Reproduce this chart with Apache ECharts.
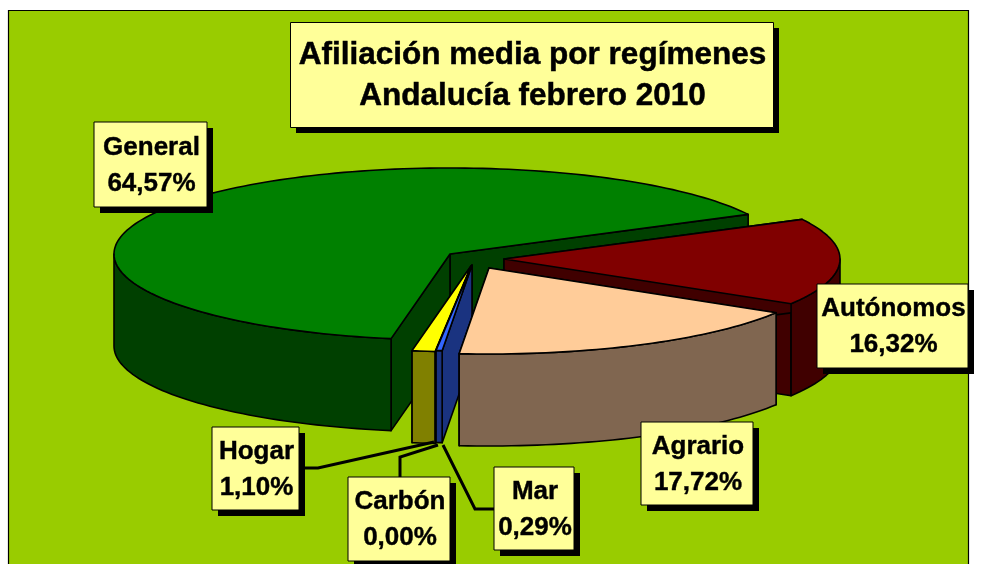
<!DOCTYPE html>
<html>
<head>
<meta charset="utf-8">
<style>html,body{margin:0;padding:0;background:#fff}#c{width:986px;height:564px}</style>
<script src="https://cdn.jsdelivr.net/npm/echarts@6/dist/echarts.min.js"></script>
</head>
<body>
<div id="c"></div>
<script>
// ---- data (pie order, counter-clockwise from the start angle) ----
var categories = ['General', 'Hogar', 'Carbón', 'Mar', 'Agrario', 'Autónomos'];
var shares = [64.57, 1.10, 0.00, 0.29, 17.72, 16.32];
var titleLines = ['Afiliación media por regímenes', 'Andalucía febrero 2010'];

// ---- styles and layout ----
var topColors = {General:'#008000',Hogar:'#FFFF00','Carbón':'#333399',Mar:'#3366FF',Agrario:'#FFCC99','Autónomos':'#800000'};
var sideColors = {General:'#004000',Hogar:'#808000','Carbón':'#1A1A4D',Mar:'#1A3380',Agrario:'#806650','Autónomos':'#400000'};
var apex = {General:[450,254],Hogar:[471,266],'Carbón':[471.5,266],Mar:[472,265],Agrario:[489,268],'Autónomos':[504,259]};
var paintOrder = {General:1,'Autónomos':2,Hogar:3,'Carbón':4,Mar:5,Agrario:6};
var boxes = {General:[94,122,113,85],Hogar:[212,427,87,83],'Carbón':[348,477,102,84],Mar:[494,467,80,83],Agrario:[641,422,112,83],'Autónomos':[817,284,151,84]};
var leaders = {
  Hogar:[[299,468],[318,468],[434,442]],
  'Carbón':[[400,477],[400,457],[438,445]],
  Mar:[[494,509],[475,509],[443,445]]
};
var RX = 336, RY = 86, DEPTH = 92, START = 27.45;
var FONT = '"Liberation Sans", Arial, sans-serif';

var total = shares.reduce(function(a,b){return a+b;},0);
function rim(c,deg){var t=deg*Math.PI/180;return [c[0]+RX*Math.cos(t),c[1]-RY*Math.sin(t)];}
function arc(c,a0,a1){var n=Math.max(2,Math.ceil((a1-a0)/1.5)),p=[];for(var i=0;i<=n;i++)p.push(rim(c,a0+(a1-a0)*i/n));return p;}
function down(p){return [p[0],p[1]+DEPTH];}
function poly(pts,fill,z){return {type:'polygon',shape:{points:pts},z2:z,style:{fill:fill,stroke:'#000',lineWidth:1.6,lineJoin:'round'}};}

function renderSlice(params,api){
  var i=api.value(0), name=categories[i];
  var before=0;for(var k=0;k<i;k++)before+=shares[k];
  var a0=START+before/total*360, a1=a0+shares[i]/total*360;
  var c=apex[name], z=paintOrder[name]*10, kids=[];
  var side=sideColors[name], cb=down(c);
  [a0,a1].forEach(function(a){var r=rim(c,a);kids.push(poly([c,r,down(r),cb],side,z));});
  [[180,360],[540,720]].forEach(function(w){
    var s=Math.max(a0,w[0]),e=Math.min(a1,w[1]);
    if(e>s){var t=arc(c,s,e);kids.push(poly(t.concat(t.map(down).reverse()),side,z+1));}
  });
  kids.push(poly([c].concat(arc(c,a0,a1)),topColors[name],z+2));
  return {type:'group',children:kids};
}
function renderLabel(params,api){
  var i=api.value(0), name=categories[i], b=boxes[name], kids=[];
  var text=name+'\n'+shares[i].toFixed(2).replace('.',',')+'%';
  if(leaders[name])kids.push({type:'polyline',z2:100,shape:{points:leaders[name]},style:{fill:null,stroke:'#000',lineWidth:3,lineJoin:'miter'}});
  kids.push({type:'rect',z2:110,shape:{x:b[0]+6,y:b[1]+6,width:b[2],height:b[3]},style:{fill:'#000'}});
  kids.push({type:'rect',z2:111,shape:{x:b[0],y:b[1],width:b[2],height:b[3]},style:{fill:'#FFFF99',stroke:'#000',lineWidth:1}});
  kids.push({type:'text',z2:112,style:{x:b[0]+b[2]/2+1,y:b[1]+b[3]/2+1,text:text,align:'center',verticalAlign:'middle',fill:'#000',font:'bold 26px '+FONT,lineHeight:36,stroke:'#000',lineWidth:0.4}});
  return {type:'group',children:kids};
}

var idx=categories.map(function(_,i){return [i];});
var chart=echarts.init(document.getElementById('c'),null,{renderer:'canvas'});
chart.setOption({
  backgroundColor:'#fff',
  animation:false,
  title:{
    text:titleLines.join('\n'),left:527.5,top:30,textAlign:'center',z:20,
    textStyle:{fontFamily:FONT,fontWeight:'bold',fontSize:31.5,lineHeight:41,color:'#000',textBorderColor:'#000',textBorderWidth:0.5}
  },
  graphic:[
    {type:'rect',z:-2,silent:true,shape:{x:8.5,y:10.5,width:960,height:600},style:{fill:'#99CC00',stroke:'#000',lineWidth:1.2}},
    {type:'rect',z:10,silent:true,shape:{x:296,y:28,width:483,height:105},style:{fill:'#000'}},
    {type:'rect',z:11,silent:true,shape:{x:290.5,y:22.5,width:483,height:105},style:{fill:'#FFFF99',stroke:'#000',lineWidth:1}}
  ],
  series:[
    {type:'custom',coordinateSystem:'none',silent:true,z:2,data:idx,renderItem:renderSlice,encode:{value:0}},
    {type:'custom',coordinateSystem:'none',silent:true,z:3,data:idx,renderItem:renderLabel,encode:{value:0}}
  ]
});
</script>
</body>
</html>
